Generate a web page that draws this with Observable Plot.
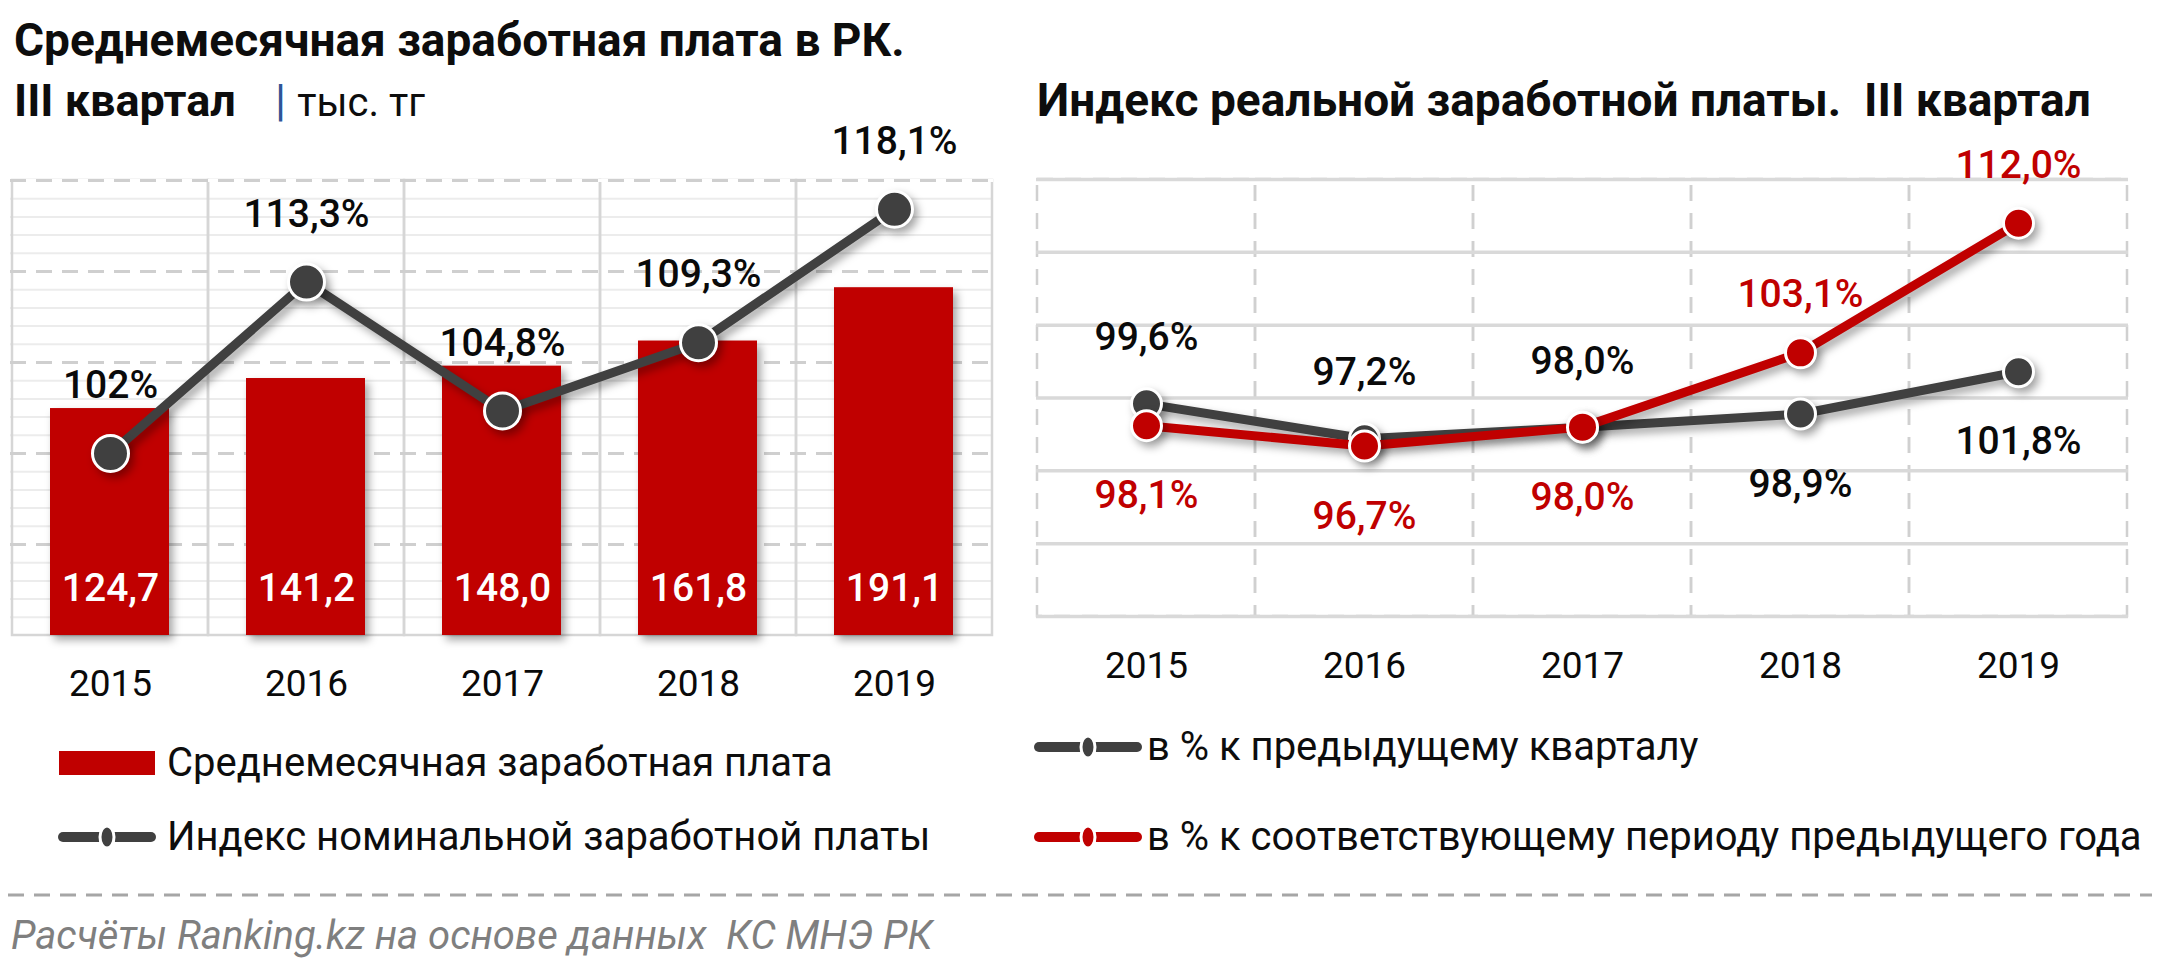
<!DOCTYPE html>
<html>
<head>
<meta charset="utf-8">
<script src="https://cdn.jsdelivr.net/npm/d3@7"></script>
<script src="https://cdn.jsdelivr.net/npm/@observablehq/plot@0.6"></script>
<style>
  html, body { margin: 0; padding: 0; background: #ffffff; }
  body { width: 2160px; height: 976px; position: relative; overflow: hidden; font-family: Roboto, "Open Sans", sans-serif; color: #0d0d0d; }
  .t { position: absolute; white-space: nowrap; transform: translateY(-50%); line-height: 1; }
  .chart { position: absolute; }
  .sw { position: absolute; transform: translateY(-50%); }
</style>
</head>
<body>
<div class="t" style="left:14px; top:40px; font-size:46px; font-weight:700;">Среднемесячная заработная плата в РК.</div>
<div class="t" style="left:14px; top:100px; font-size:45px; font-weight:700;">III квартал <span style="display:inline-block;width:28px"></span><span style="color:#2F5597;font-weight:400;">|</span> <span style="font-weight:400;font-size:40px;">тыс. тг</span></div>
<div class="t" style="left:1037px; top:100px; font-size:46px; font-weight:700;">Индекс реальной заработной платы.&nbsp; III квартал</div>

<div id="left" class="chart" style="left:0px; top:100px;"></div>
<div id="right" class="chart" style="left:1020px; top:100px;"></div>

<svg class="sw" style="left:59px; top:763px;" width="96" height="24"><rect x="0" y="0" width="96" height="24" fill="#C00000"/></svg>
<div class="t" style="left:167px; top:763px; font-size:40px;">Среднемесячная заработная плата</div>
<svg class="sw" style="left:57px; top:837px;" width="100" height="30"><line x1="6" y1="15" x2="94" y2="15" stroke="#404040" stroke-width="10" stroke-linecap="round"/><ellipse cx="50" cy="15" rx="7" ry="11" fill="#404040" stroke="#fff" stroke-width="3"/></svg>
<div class="t" style="left:167px; top:837px; font-size:40px;">Индекс номинальной заработной платы</div>

<svg class="sw" style="left:1033px; top:747px;" width="110" height="30"><line x1="6" y1="15" x2="104" y2="15" stroke="#404040" stroke-width="10" stroke-linecap="round"/><ellipse cx="55" cy="15" rx="7" ry="11" fill="#404040" stroke="#fff" stroke-width="3"/></svg>
<div class="t" style="left:1147px; top:747px; font-size:40px;">в % к предыдущему кварталу</div>
<svg class="sw" style="left:1033px; top:837px;" width="110" height="30"><line x1="6" y1="15" x2="104" y2="15" stroke="#C00000" stroke-width="10" stroke-linecap="round"/><ellipse cx="55" cy="15" rx="7" ry="11" fill="#C00000" stroke="#fff" stroke-width="3"/></svg>
<div class="t" style="left:1147px; top:837px; font-size:40px;">в % к соответствующему периоду предыдущего года</div>

<svg style="position:absolute; left:0; top:893px;" width="2160" height="4"><line x1="8" y1="2" x2="2152" y2="2" stroke="#a6a6a6" stroke-width="3" stroke-dasharray="16,10"/></svg>
<div class="t" style="left:11px; top:936px; font-size:40px; font-style:italic; color:#7f7f7f;">Расчёты Ranking.kz на основе данных&nbsp; КС МНЭ РК</div>

<script>
// ---------- data ----------
const years = ["2015", "2016", "2017", "2018", "2019"];
const avgWage = [124.7, 141.2, 148.0, 161.8, 191.1];          // тыс. тг
const nominalIndex = [102, 113.3, 104.8, 109.3, 118.1];      // %
const realQoQ = [99.6, 97.2, 98.0, 98.9, 101.8];             // % к предыдущему кварталу
const realYoY = [98.1, 96.7, 98.0, 103.1, 112.0];            // % к соотв. периоду предыдущего года
const wageTicksMajor = [50, 100, 150, 200, 250];
const wageTicksMinor = d3.range(10, 250, 10).filter(v => v % 50 !== 0);
const realTicks = [85, 90, 95, 100, 105, 110, 115];

// ---------- helpers ----------
const RED = "#C00000", DARK = "#404040", INK = "#0a0a0a";
const FONT = "Roboto, 'Open Sans', sans-serif";
const comma1 = v => v.toFixed(1).replace(".", ",");
const pctLeft = v => (Number.isInteger(v) ? String(v) : comma1(v)) + "%";
const pctRight = v => comma1(v) + "%";
const shadow = (svg) => {
  svg.querySelectorAll('g[aria-label="bar"], g[aria-label="line"], g[aria-label="dot"]').forEach(g => {
    g.style.filter = "drop-shadow(4px 5px 4px rgba(0,0,0,0.35))";
  });
};

// ---------- left chart ----------
const leftData = years.map((year, i) => ({year, wage: avgWage[i], idx: nominalIndex[i]}));
const secondary = d3.scaleLinear([90, 120], [0, 250]); // secondary axis mapped onto primary

const left = Plot.plot({
  width: 1010, height: 620,
  marginLeft: 10, marginRight: 17, marginTop: 80, marginBottom: 85,
  style: {fontFamily: FONT, fontSize: "37px", color: INK, background: "transparent", overflow: "visible"},
  x: {domain: years, padding: 0, tickSize: 0, tickPadding: 34, label: null},
  y: {domain: [0, 250], axis: null},
  marks: [
    Plot.ruleY(wageTicksMinor, {stroke: "#ececec", strokeWidth: 2}),
    Plot.cell(leftData, {x: "year", fill: "none", stroke: "#d6d6d6", strokeWidth: 2.5}),
    Plot.ruleY([250], {stroke: "#ffffff", strokeWidth: 3}),
    Plot.ruleY(wageTicksMajor, {stroke: "#cfcfcf", strokeWidth: 3, strokeDasharray: "16,10"}),
    Plot.barY(leftData, {x: "year", y: "wage", fill: RED, insetLeft: 38, insetRight: 39}),
    Plot.text(leftData, {x: "year", y: 0, text: d => comma1(d.wage), dy: -47, fill: "#ffffff", fontSize: 39, fontWeight: 500}),
    Plot.line(leftData, {x: "year", y: d => secondary(d.idx), stroke: DARK, strokeWidth: 9}),
    Plot.dot(leftData, {x: "year", y: d => secondary(d.idx), r: 18, fill: DARK, stroke: "#ffffff", strokeWidth: 3}),
    Plot.text(leftData, {x: "year", y: d => secondary(d.idx), text: d => pctLeft(d.idx), dy: -68, fill: INK, fontSize: 39, fontWeight: 500})
  ]
});
shadow(left);
document.getElementById("left").append(left);

// ---------- right chart ----------
const rightData = years.map((year, i) => ({year, qoq: realQoQ[i], yoy: realYoY[i]}));

const right = Plot.plot({
  width: 1140, height: 620,
  marginLeft: 16, marginRight: 32, marginTop: 79, marginBottom: 104,
  style: {fontFamily: FONT, fontSize: "37px", color: INK, background: "transparent", overflow: "visible"},
  x: {domain: years, padding: 0, tickSize: 0, tickPadding: 35, label: null},
  y: {domain: [85, 115], axis: null},
  marks: [
    Plot.cell(rightData, {x: "year", fill: "none", stroke: "#d0d0d0", strokeWidth: 2.5, strokeDasharray: "16,12"}),
    Plot.ruleY(realTicks, {stroke: "#d9d9d9", strokeWidth: 3.5}),
    Plot.line(rightData, {x: "year", y: "qoq", stroke: DARK, strokeWidth: 9}),
    Plot.dot(rightData, {x: "year", y: "qoq", r: 15, fill: DARK, stroke: "#ffffff", strokeWidth: 3}),
    Plot.line(rightData, {x: "year", y: "yoy", stroke: RED, strokeWidth: 9}),
    Plot.dot(rightData, {x: "year", y: "yoy", r: 15, fill: RED, stroke: "#ffffff", strokeWidth: 3}),
    // labels: the higher series is labelled above, the lower one below
    Plot.text(rightData, {filter: d => d.qoq >= d.yoy, x: "year", y: "qoq", text: d => pctRight(d.qoq), dy: -66, fill: INK, fontSize: 39, fontWeight: 500}),
    Plot.text(rightData, {filter: d => d.qoq < d.yoy, x: "year", y: "qoq", text: d => pctRight(d.qoq), dy: 70, fill: INK, fontSize: 39, fontWeight: 500}),
    Plot.text(rightData, {filter: d => d.yoy > d.qoq, x: "year", y: "yoy", text: d => pctRight(d.yoy), dy: -58, fill: RED, fontSize: 39, fontWeight: 500}),
    Plot.text(rightData, {filter: d => d.yoy <= d.qoq, x: "year", y: "yoy", text: d => pctRight(d.yoy), dy: 70, fill: RED, fontSize: 39, fontWeight: 500})
  ]
});
shadow(right);
document.getElementById("right").append(right);
</script>
</body>
</html>
